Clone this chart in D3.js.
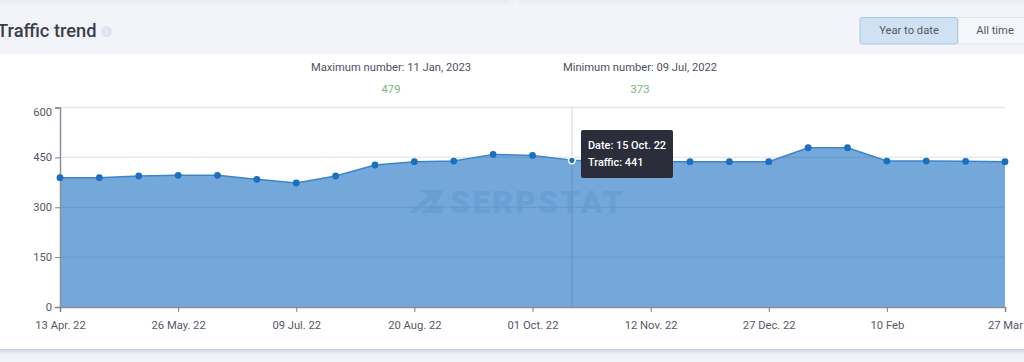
<!DOCTYPE html>
<html>
    <head>
        <meta charset="utf-8">
        <style>
            html, body { margin: 0; padding: 0; background: #f2f4f9; overflow: hidden; }
            text { font-family: Roboto, sans-serif; }
        </style>
    </head>
    <body>
        <svg id="cont" width="1024" height="362"></svg>

        <script src="https://cdn.jsdelivr.net/npm/d3@7"></script>
        <script>
            // values
            const dates = ["13 Apr. 22", "27 Apr. 22", "12 May. 22", "26 May. 22", "09 Jun. 22", "25 Jun. 22", "09 Jul. 22",
                "23 Jul. 22", "06 Aug. 22", "20 Aug. 22", "03 Sep. 22", "17 Sep. 22", "01 Oct. 22", "15 Oct. 22",
                "29 Oct. 22", "12 Nov. 22", "26 Nov. 22", "13 Dec. 22", "27 Dec. 22", "11 Jan. 23", "25 Jan. 23",
                "10 Feb", "24 Feb. 23", "13 Mar. 23", "27 Mar"];
            const traffic = [389, 389, 394, 396, 396, 384, 373, 394, 427, 437, 439, 459, 456, 441,
                437, 437, 437, 437, 437, 479, 479, 439, 439, 438, 437];
            const xTickLabels = ["13 Apr. 22", "26 May. 22", "09 Jul. 22", "20 Aug. 22", "01 Oct. 22", "12 Nov. 22", "27 Dec. 22", "10 Feb", "27 Mar"];
            const yTicks = [0, 150, 300, 450, 600];
            const activeDate = "15 Oct. 22";
            const maxLabel = "Maximum number: 11 Jan, 2023";
            const maxValue = "479";
            const minLabel = "Minimum number: 09 Jul, 2022";
            const minValue = "373";

            const svg = d3.select("#cont");

            const x = d3.scalePoint().domain(dates).range([60, 1005]);
            const y = d3.scaleLinear().domain([0, 600]).range([307, 107.5]);
            const fontSize = 11.2;

            // page frame
            let defs = svg.append("defs");
            let shadow = defs.append("filter").attr("id", "shadow").attr("x", "-5%").attr("y", "-5%").attr("width", "110%").attr("height", "115%");
            shadow.append("feDropShadow").attr("dx", 0).attr("dy", 2).attr("stdDeviation", 2.5).attr("flood-color", "#a9b4cc").attr("flood-opacity", 0.7);
            let fade = defs.append("linearGradient").attr("id", "fade").attr("x1", 0).attr("x2", 0).attr("y1", 0).attr("y2", 1);
            fade.append("stop").attr("offset", 0).attr("stop-color", "#d9dfea");
            fade.append("stop").attr("offset", 1).attr("stop-color", "#f2f4f9");
            let soft = defs.append("filter").attr("id", "soft");
            soft.append("feGaussianBlur").attr("stdDeviation", 2);

            svg.append("g").attr("filter", "url(#soft)").selectAll("rect").data([[-10, 521], [519, 515]]).enter().append("rect")
                .attr("x", d => d[0]).attr("y", -2).attr("width", d => d[1]).attr("height", 6).attr("fill", "url(#fade)");
            svg.append("rect").attr("x", -10).attr("y", 54).attr("width", 1050).attr("height", 295).attr("fill", "#fff").attr("filter", "url(#shadow)");
            svg.append("rect").attr("x", -10).attr("y", 40).attr("width", 1050).attr("height", 14).attr("fill", "#f2f4f9");

            // header
            svg.append("text").attr("x", -3).attr("y", 37).attr("font-size", 18.3).attr("font-weight", 500).attr("fill", "#3b3e4b").text("Traffic trend");
            svg.append("circle").attr("cx", 106.5).attr("cy", 31.5).attr("r", 5.5).attr("fill", "#dde3f0");
            svg.append("text").attr("x", 106.5).attr("y", 35).attr("font-size", 9).attr("font-weight", 700).attr("text-anchor", "middle").attr("fill", "#f2f4f9").text("i");

            svg.append("rect").attr("x", 958).attr("y", 17.5).attr("width", 80).attr("height", 26.5).attr("fill", "#f4f6fa").attr("stroke", "#dfe4ee");
            svg.append("rect").attr("x", 860).attr("y", 17.5).attr("width", 97.5).attr("height", 26.5).attr("rx", 2).attr("fill", "#cfe1f3").attr("stroke", "#a7c8e8");
            svg.append("text").attr("x", 909).attr("y", 34).attr("font-size", fontSize).attr("text-anchor", "middle").attr("fill", "#555a68").text("Year to date");
            svg.append("text").attr("x", 995).attr("y", 34).attr("font-size", fontSize).attr("text-anchor", "middle").attr("fill", "#555a68").text("All time");

            // max and min captions
            svg.append("text").attr("x", 391).attr("y", 71).attr("font-size", fontSize).attr("text-anchor", "middle").attr("fill", "#4e5160").text(maxLabel);
            svg.append("text").attr("x", 391).attr("y", 93).attr("font-size", fontSize).attr("text-anchor", "middle").attr("fill", "#7cb577").text(maxValue);
            svg.append("text").attr("x", 640).attr("y", 71).attr("font-size", fontSize).attr("text-anchor", "middle").attr("fill", "#4e5160").text(minLabel);
            svg.append("text").attr("x", 640).attr("y", 93).attr("font-size", fontSize).attr("text-anchor", "middle").attr("fill", "#7cb577").text(minValue);

            // area
            let area = d3.area()
                .x((d, i) => x(dates[i]))
                .y0(y(0))
                .y1(d => y(d));
            let line = d3.line()
                .x((d, i) => x(dates[i]))
                .y(d => y(d));

            // light grid under the area, darker tint of it on top
            svg.selectAll(".grid").data(yTicks.filter(d => d > 0)).enter().append("line")
                .attr("class", "grid")
                .attr("x1", 60).attr("x2", 1005)
                .attr("y1", d => y(d)).attr("y2", d => y(d))
                .attr("stroke", "#e2e6ee").attr("stroke-width", 1.4);

            // crosshair
            svg.append("line").attr("x1", x(activeDate)).attr("x2", x(activeDate)).attr("y1", y(600)).attr("y2", y(0))
                .attr("stroke", "#dfe2e9").attr("stroke-width", 1.5);

            svg.append("path").attr("d", area(traffic)).attr("fill", "#75a8da");

            // watermark
            let mark = svg.append("g").attr("fill", "#6a9fd5");
            mark.append("path").attr("d", "M419 190 H443 L436 205 L431 200 L415 213 H408 L428 196 Z");
            mark.append("path").attr("d", "M420 213 L433 203 L437 207 L443 203 V213 Z");
            mark.append("text").attr("x", 450).attr("y", 213).attr("font-size", 32).attr("font-weight", 900).attr("letter-spacing", 2.1).text("SERPSTAT");

            svg.append("clipPath").attr("id", "inside").append("path").attr("d", area(traffic));
            svg.selectAll(".gridin").data(yTicks.filter(d => d > 0)).enter().append("line")
                .attr("class", "gridin")
                .attr("clip-path", "url(#inside)")
                .attr("x1", 60).attr("x2", 1005)
                .attr("y1", d => y(d)).attr("y2", d => y(d))
                .attr("stroke", "#6496c8").attr("stroke-width", 0.9);
            svg.append("line").attr("clip-path", "url(#inside)")
                .attr("x1", x(activeDate)).attr("x2", x(activeDate)).attr("y1", y(600)).attr("y2", y(0))
                .attr("stroke", "#6496c8").attr("stroke-width", 1.2);

            svg.append("path").attr("d", line(traffic)).attr("fill", "none").attr("stroke", "#3f84cb").attr("stroke-width", 1.5);

            // axes
            let axisY = d3.axisLeft(y).tickValues(yTicks).tickSize(5).tickPadding(3);
            let gy = svg.append("g").attr("transform", "translate(60,0)").call(axisY);
            let axisX = d3.axisBottom(x).tickValues(dates.filter((d, i) => i % 3 == 0)).tickSize(5).tickPadding(9)
                .tickFormat((d, i) => xTickLabels[i]);
            let gx = svg.append("g").attr("transform", "translate(0,307)").call(axisX);
            [gy, gx].forEach(g => {
                g.selectAll("text").attr("font-size", fontSize).attr("fill", "#555866").style("font-family", "Roboto, sans-serif");
                g.selectAll(".tick line").attr("stroke", "#7c818c");
                g.select(".domain").attr("stroke", "#8c9199").attr("stroke-width", 1.5);
            });
            // top label sits below its tick in the original
            gy.selectAll(".tick text").filter(d => d == 600).attr("dy", "0.75em");

            // points
            svg.selectAll(".pt").data(traffic).enter().append("circle")
                .attr("class", "pt")
                .attr("cx", (d, i) => x(dates[i]))
                .attr("cy", d => y(d))
                .attr("r", 3.4)
                .attr("fill", "#1a6fc0")
                .attr("stroke", (d, i) => dates[i] == activeDate ? "#fff" : "none")
                .attr("stroke-width", 1.6);

            // tooltip
            let tip = svg.append("g").attr("transform", "translate(581,130)");
            tip.append("rect").attr("width", 92).attr("height", 48).attr("rx", 2).attr("fill", "#2b2d3b");
            tip.append("text").attr("x", 7).attr("y", 19).attr("font-size", 10.9).attr("font-weight", 500).attr("fill", "#fff").text("Date: " + activeDate);
            tip.append("text").attr("x", 7).attr("y", 36).attr("font-size", 10.9).attr("font-weight", 500).attr("fill", "#fff").text("Traffic: " + traffic[dates.indexOf(activeDate)]);
        </script>
    </body>

</html>
